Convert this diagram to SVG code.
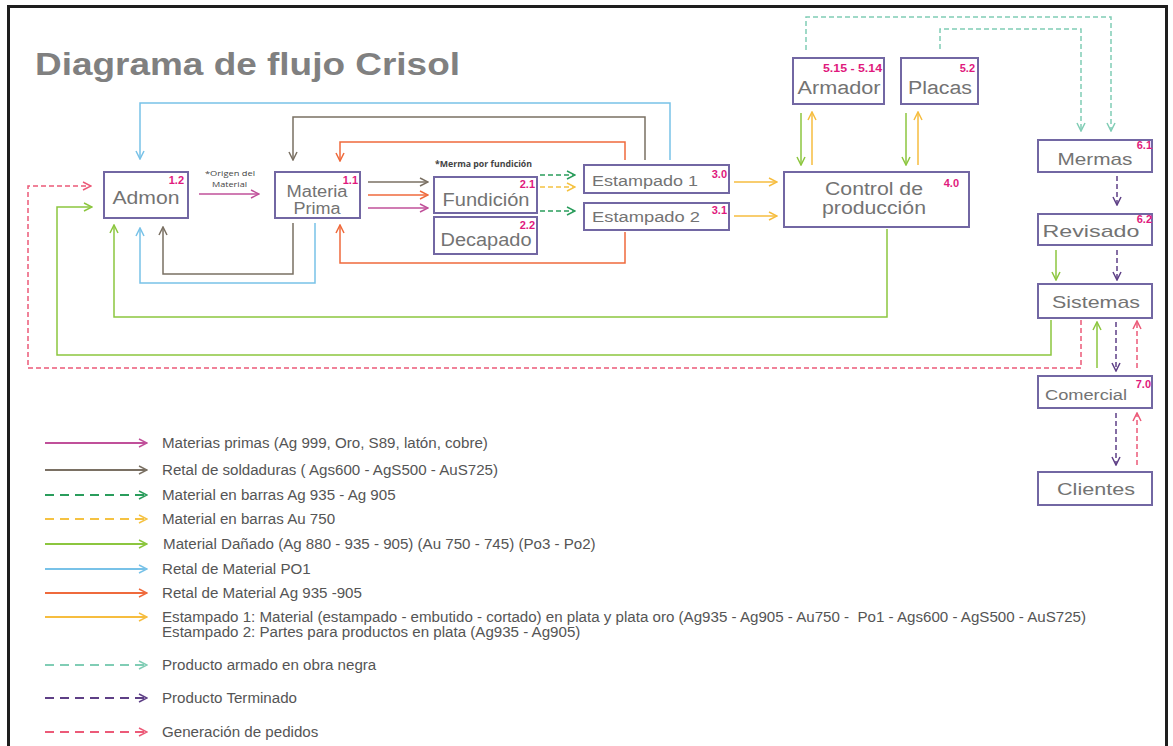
<svg xmlns="http://www.w3.org/2000/svg" width="1173" height="746" viewBox="0 0 1173 746">
<style>
.box{fill:#fff;stroke:#7267a3;stroke-width:2}
.lbl{font-family:"Liberation Sans",Arial,sans-serif;fill:#737373;text-anchor:middle}
.num{font-family:"Liberation Sans",Arial,sans-serif;font-weight:bold;font-size:11px;fill:#e0197d;text-anchor:end}
.note{font-family:"Open Sans","Liberation Sans",sans-serif;font-size:8px;fill:#444}
.leg{font-family:"Liberation Sans",Arial,sans-serif;font-size:14px;fill:#555}
.c{fill:none;stroke-width:1.5}
.lg{fill:none;stroke-width:2}
.pk{stroke:#c0509a}.br{stroke:#7a7063}.gd{stroke:#2a9d5c;stroke-dasharray:5 3}.yd{stroke:#f5c242;stroke-dasharray:5 3}
.gr{stroke:#8cc63f}.bl{stroke:#78c2e8}.or{stroke:#ef6a3c}.ye{stroke:#f6bd3f}
.td{stroke:#80cdb5;stroke-dasharray:5 3}.pd{stroke:#5e3f86;stroke-dasharray:5 3}.rd{stroke:#ec5a78;stroke-dasharray:5 3}
.lg.gd,.lg.yd,.lg.td,.lg.pd,.lg.rd{stroke-dasharray:9 6}
</style>
<defs>
<marker id="a-pk" viewBox="0 0 10 10" refX="9" refY="5" markerWidth="10" markerHeight="10" markerUnits="userSpaceOnUse" orient="auto"><path d="M1,1 L9,5 L1,9" fill="none" stroke="#c0509a" stroke-width="1.5"/></marker>
<marker id="a-br" viewBox="0 0 10 10" refX="9" refY="5" markerWidth="10" markerHeight="10" markerUnits="userSpaceOnUse" orient="auto"><path d="M1,1 L9,5 L1,9" fill="none" stroke="#7a7063" stroke-width="1.5"/></marker>
<marker id="a-gd" viewBox="0 0 10 10" refX="9" refY="5" markerWidth="10" markerHeight="10" markerUnits="userSpaceOnUse" orient="auto"><path d="M1,1 L9,5 L1,9" fill="none" stroke="#2a9d5c" stroke-width="1.5"/></marker>
<marker id="a-yd" viewBox="0 0 10 10" refX="9" refY="5" markerWidth="10" markerHeight="10" markerUnits="userSpaceOnUse" orient="auto"><path d="M1,1 L9,5 L1,9" fill="none" stroke="#f5c242" stroke-width="1.5"/></marker>
<marker id="a-gr" viewBox="0 0 10 10" refX="9" refY="5" markerWidth="10" markerHeight="10" markerUnits="userSpaceOnUse" orient="auto"><path d="M1,1 L9,5 L1,9" fill="none" stroke="#8cc63f" stroke-width="1.5"/></marker>
<marker id="a-bl" viewBox="0 0 10 10" refX="9" refY="5" markerWidth="10" markerHeight="10" markerUnits="userSpaceOnUse" orient="auto"><path d="M1,1 L9,5 L1,9" fill="none" stroke="#78c2e8" stroke-width="1.5"/></marker>
<marker id="a-or" viewBox="0 0 10 10" refX="9" refY="5" markerWidth="10" markerHeight="10" markerUnits="userSpaceOnUse" orient="auto"><path d="M1,1 L9,5 L1,9" fill="none" stroke="#ef6a3c" stroke-width="1.5"/></marker>
<marker id="a-ye" viewBox="0 0 10 10" refX="9" refY="5" markerWidth="10" markerHeight="10" markerUnits="userSpaceOnUse" orient="auto"><path d="M1,1 L9,5 L1,9" fill="none" stroke="#f6bd3f" stroke-width="1.5"/></marker>
<marker id="a-td" viewBox="0 0 10 10" refX="9" refY="5" markerWidth="10" markerHeight="10" markerUnits="userSpaceOnUse" orient="auto"><path d="M1,1 L9,5 L1,9" fill="none" stroke="#80cdb5" stroke-width="1.5"/></marker>
<marker id="a-pd" viewBox="0 0 10 10" refX="9" refY="5" markerWidth="10" markerHeight="10" markerUnits="userSpaceOnUse" orient="auto"><path d="M1,1 L9,5 L1,9" fill="none" stroke="#5e3f86" stroke-width="1.5"/></marker>
<marker id="a-rd" viewBox="0 0 10 10" refX="9" refY="5" markerWidth="10" markerHeight="10" markerUnits="userSpaceOnUse" orient="auto"><path d="M1,1 L9,5 L1,9" fill="none" stroke="#ec5a78" stroke-width="1.5"/></marker>
</defs>
<rect x="0" y="0" width="1173" height="746" fill="#fff"/>
<rect x="8.5" y="6.5" width="1158" height="760" fill="none" stroke="#1e1e1e" stroke-width="3"/>
<text x="35" y="75" font-family="Liberation Sans, Arial, sans-serif" font-weight="bold" font-size="31" fill="#808080" textLength="425" lengthAdjust="spacingAndGlyphs">Diagrama de flujo Crisol</text>

<g id="connectors">
<path class="c bl" d="M670,160 V103 H140 V159" marker-end="url(#a-bl)"/>
<path class="c br" d="M645,160 V117 H293 V160" marker-end="url(#a-br)"/>
<path class="c or" d="M625,160 V142 H340 V161" marker-end="url(#a-or)"/>
<path class="c or" d="M625,232 V263 H340 V225" marker-end="url(#a-or)"/>
<path class="c br" d="M293,223 V274 H163 V227" marker-end="url(#a-br)"/>
<path class="c bl" d="M315,223 V283 H140 V228" marker-end="url(#a-bl)"/>
<path class="c gr" d="M887,229 V317 H114 V225" marker-end="url(#a-gr)"/>
<path class="c gr" d="M1051,320 V355 H57 V207 H92" marker-end="url(#a-gr)"/>
<path class="c rd" d="M1081,320 V368 H28 V186 H91" marker-end="url(#a-rd)"/>
<path class="c pk" d="M199,194 H259" marker-end="url(#a-pk)"/>
<path class="c br" d="M368,182 H428" marker-end="url(#a-br)"/>
<path class="c or" d="M368,195 H428" marker-end="url(#a-or)"/>
<path class="c pk" d="M368,208 H428" marker-end="url(#a-pk)"/>
<path class="c gd" d="M540,175 H575" marker-end="url(#a-gd)"/>
<path class="c yd" d="M540,187 H575" marker-end="url(#a-yd)"/>
<path class="c gd" d="M540,211 H575" marker-end="url(#a-gd)"/>
<path class="c ye" d="M734,182 H777" marker-end="url(#a-ye)"/>
<path class="c ye" d="M734,216 H777" marker-end="url(#a-ye)"/>
<path class="c gr" d="M801,113 V165" marker-end="url(#a-gr)"/>
<path class="c ye" d="M812,165 V112" marker-end="url(#a-ye)"/>
<path class="c gr" d="M906,113 V165" marker-end="url(#a-gr)"/>
<path class="c ye" d="M918,165 V112" marker-end="url(#a-ye)"/>
<path class="c td" d="M806,50 V17 H1111 V131" marker-end="url(#a-td)"/>
<path class="c td" d="M940,49 V29 H1081 V131" marker-end="url(#a-td)"/>
<path class="c pd" d="M1117,176 V205" marker-end="url(#a-pd)"/>
<path class="c gr" d="M1056,250 V280" marker-end="url(#a-gr)"/>
<path class="c pd" d="M1117,250 V280" marker-end="url(#a-pd)"/>
<path class="c pd" d="M1116,322 V371" marker-end="url(#a-pd)"/>
<path class="c gr" d="M1097,368 V322" marker-end="url(#a-gr)"/>
<path class="c rd" d="M1137,368 V321" marker-end="url(#a-rd)"/>
<path class="c pd" d="M1116,413 V465" marker-end="url(#a-pd)"/>
<path class="c rd" d="M1137,465 V413" marker-end="url(#a-rd)"/>
</g>

<text class="note" x="205" y="176" textLength="50" lengthAdjust="spacingAndGlyphs">*Origen del</text>
<text class="note" x="212" y="187" textLength="35" lengthAdjust="spacingAndGlyphs">Material</text>
<text class="note" x="435" y="167" font-weight="bold" textLength="97" lengthAdjust="spacingAndGlyphs">*Merma por fundición</text>

<g id="admon"><rect class="box" x="104" y="172" width="84" height="46"/><text class="lbl" x="146" y="204" font-size="18" textLength="67" lengthAdjust="spacingAndGlyphs">Admon</text><text class="num" x="184" y="184">1.2</text></g>
<g id="materia-prima"><rect class="box" x="275" y="172" width="85" height="46"/><text class="lbl" x="317" y="197" font-size="16" textLength="61" lengthAdjust="spacingAndGlyphs">Materia</text><text class="lbl" x="317" y="214" font-size="16" textLength="47" lengthAdjust="spacingAndGlyphs">Prima</text><text class="num" x="358" y="184">1.1</text></g>
<g id="fundicion"><rect class="box" x="434" y="177" width="103" height="36"/><text class="lbl" x="486" y="206" font-size="17.5" textLength="87" lengthAdjust="spacingAndGlyphs">Fundición</text><text class="num" x="535" y="188">2.1</text></g>
<g id="decapado"><rect class="box" x="434" y="217" width="103" height="37"/><text class="lbl" x="486" y="246" font-size="17.5" textLength="91" lengthAdjust="spacingAndGlyphs">Decapado</text><text class="num" x="535" y="229">2.2</text></g>
<g id="estampado1"><rect class="box" x="584" y="165" width="145" height="28"/><text class="lbl" x="645" y="186" font-size="15.5" textLength="106" lengthAdjust="spacingAndGlyphs">Estampado 1</text><text class="num" x="727" y="178">3.0</text></g>
<g id="estampado2"><rect class="box" x="584" y="203" width="145" height="27"/><text class="lbl" x="646" y="222" font-size="15.5" textLength="108" lengthAdjust="spacingAndGlyphs">Estampado 2</text><text class="num" x="727" y="214">3.1</text></g>
<g id="control"><rect class="box" x="784" y="172" width="185" height="55"/><text class="lbl" x="874" y="195" font-size="17.5" textLength="98" lengthAdjust="spacingAndGlyphs">Control de</text><text class="lbl" x="874" y="214" font-size="17.5" textLength="104" lengthAdjust="spacingAndGlyphs">producción</text><text class="num" x="959" y="187">4.0</text></g>
<g id="armador"><rect class="box" x="793" y="58" width="91" height="46"/><text class="lbl" x="839" y="94" font-size="18" textLength="83" lengthAdjust="spacingAndGlyphs">Armador</text><text class="num" x="882" y="72" textLength="59" lengthAdjust="spacingAndGlyphs">5.15 - 5.14</text></g>
<g id="placas"><rect class="box" x="901" y="58" width="77" height="46"/><text class="lbl" x="940" y="94" font-size="18" textLength="64" lengthAdjust="spacingAndGlyphs">Placas</text><text class="num" x="975" y="72">5.2</text></g>
<g id="mermas"><rect class="box" x="1038" y="140" width="114" height="32"/><text class="lbl" x="1095" y="165" font-size="17" textLength="75" lengthAdjust="spacingAndGlyphs">Mermas</text><text class="num" x="1152" y="149">6.1</text></g>
<g id="revisado"><rect class="box" x="1038" y="214" width="114" height="31"/><text class="lbl" x="1091" y="237" font-size="17" textLength="97" lengthAdjust="spacingAndGlyphs">Revisado</text><text class="num" x="1152" y="223">6.2</text></g>
<g id="sistemas"><rect class="box" x="1038" y="284" width="114" height="34"/><text class="lbl" x="1096" y="308" font-size="17" textLength="88" lengthAdjust="spacingAndGlyphs">Sistemas</text></g>
<g id="comercial"><rect class="box" x="1038" y="376" width="114" height="32"/><text class="lbl" x="1086" y="400" font-size="15.5" textLength="82" lengthAdjust="spacingAndGlyphs">Comercial</text><text class="num" x="1151" y="388">7.0</text></g>
<g id="clientes"><rect class="box" x="1038" y="472" width="114" height="33"/><text class="lbl" x="1096" y="495" font-size="17" textLength="78" lengthAdjust="spacingAndGlyphs">Clientes</text></g>

<g id="legend">
<path class="lg pk" d="M45,443 H147" marker-end="url(#a-pk)"/>
<path class="lg br" d="M45,470 H147" marker-end="url(#a-br)"/>
<path class="lg gd" d="M45,495 H147" marker-end="url(#a-gd)"/>
<path class="lg yd" d="M45,519 H147" marker-end="url(#a-yd)"/>
<path class="lg gr" d="M45,544 H147" marker-end="url(#a-gr)"/>
<path class="lg bl" d="M45,569 H147" marker-end="url(#a-bl)"/>
<path class="lg or" d="M45,593 H147" marker-end="url(#a-or)"/>
<path class="lg ye" d="M45,617 H147" marker-end="url(#a-ye)"/>
<path class="lg td" d="M45,665 H147" marker-end="url(#a-td)"/>
<path class="lg pd" d="M45,698 H147" marker-end="url(#a-pd)"/>
<path class="lg rd" d="M45,732 H147" marker-end="url(#a-rd)"/>
<g transform="translate(162,0) scale(1.08,1)">
<text class="leg" x="0" y="448">Materias primas (Ag 999, Oro, S89, latón, cobre)</text>
<text class="leg" x="0" y="475">Retal de soldaduras ( Ags600 - AgS500 - AuS725)</text>
<text class="leg" x="0" y="500">Material en barras Ag 935 - Ag 905</text>
<text class="leg" x="0" y="524">Material en barras Au 750</text>
<text class="leg" x="1" y="549">Material Dañado (Ag 880 - 935 - 905) (Au 750 - 745) (Po3 - Po2)</text>
<text class="leg" x="0" y="574">Retal de Material PO1</text>
<text class="leg" x="0" y="598">Retal de Material Ag 935 -905</text>
<text class="leg" x="0" y="622" style="white-space:pre">Estampado 1: Material (estampado - embutido - cortado) en plata y plata oro (Ag935 - Ag905 - Au750 -  Po1 - Ags600 - AgS500 - AuS725)</text>
<text class="leg" x="0" y="637">Estampado 2: Partes para productos en plata (Ag935 - Ag905)</text>
<text class="leg" x="0" y="670">Producto armado en obra negra</text>
<text class="leg" x="0" y="703">Producto Terminado</text>
<text class="leg" x="0" y="737">Generación de pedidos</text>
</g>
</g>
</svg>
